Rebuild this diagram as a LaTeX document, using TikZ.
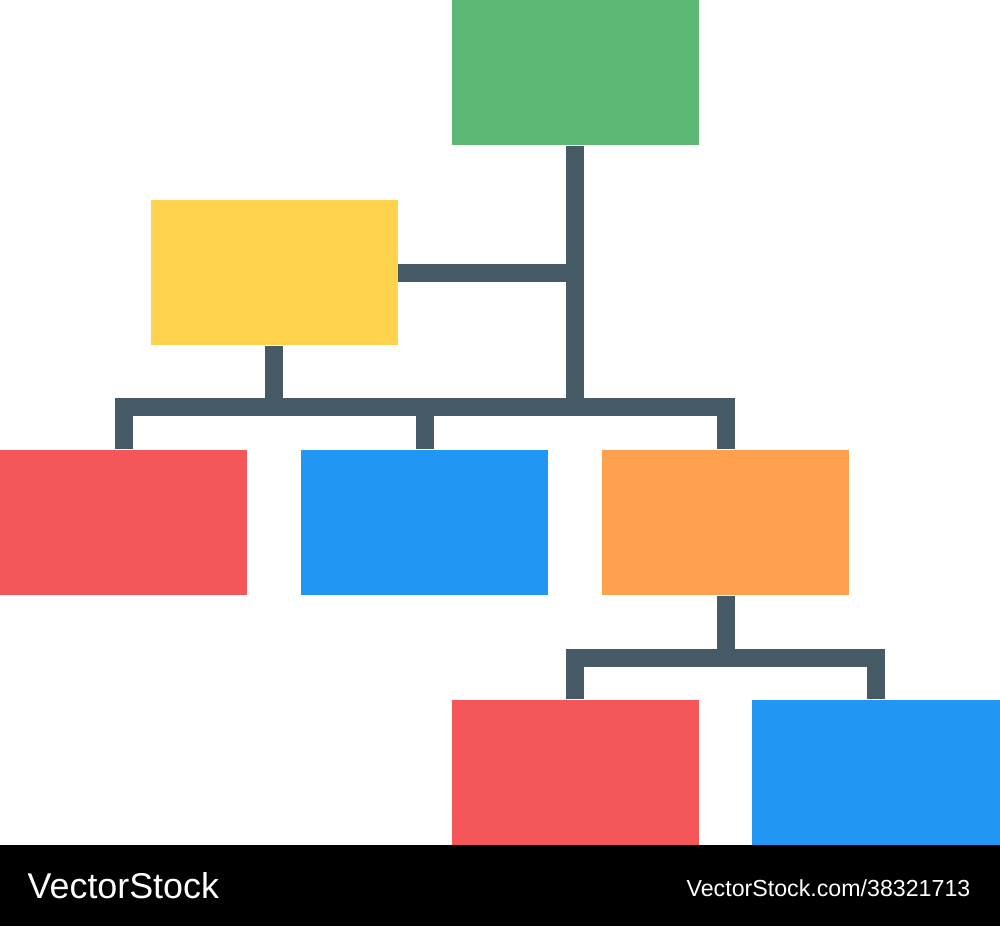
\documentclass[tikz,border=0pt]{standalone}
\usepackage{fontspec}
\setmainfont{Liberation Sans}
\definecolor{boxgreen}{HTML}{5CB874}
\definecolor{boxyellow}{HTML}{FFD34E}
\definecolor{boxred}{HTML}{F4565A}
\definecolor{boxblue}{HTML}{2196F3}
\definecolor{boxorange}{HTML}{FFA04F}
\definecolor{wire}{HTML}{455A64}
\begin{document}
\begin{tikzpicture}[
  box/.style={rectangle, inner sep=0pt, minimum width=2.47cm, minimum height=1.45cm},
  link/.style={draw=wire, line width=0.18cm, line join=miter}]
\useasboundingbox (0,0) rectangle (10,-9.26);
\node [box, fill=boxgreen] (top) at (5.75,-0.725) {};
\node [box, fill=boxyellow] (mid) at (2.74,-2.725) {};
\node [box, fill=boxred] (leftA) at (1.235,-5.225) {};
\node [box, fill=boxblue] (leftB) at (4.245,-5.225) {};
\node [box, fill=boxorange] (leftC) at (7.255,-5.225) {};
\node [box, fill=boxred] (lowA) at (5.75,-7.725) {};
\node [box, fill=boxblue, minimum width=2.48cm] (lowB) at (8.76,-7.725) {};
\coordinate (bus) at (0,-4.07);
\coordinate (bustwo) at (0,-6.58);
\draw [link] (top.south) -- (top.south |- bus);
\draw [link] (mid.east) -- (top.south |- mid.east);
\draw [link] (mid.south) -- (mid.south |- bus);
\draw [link] (leftA.north) |- (bus -| leftC.north) -- (leftC.north);
\draw [link] (leftB.north) -- (leftB.north |- bus);
\draw [link] (leftC.south) -- (leftC.south |- bustwo);
\draw [link] (lowA.north) |- (bustwo -| lowB.north) -- (lowB.north);
\fill [black] (0,-8.45) rectangle (10,-9.26);
\node [white, anchor=base west, inner sep=0pt, font=\fontsize{10.2}{12}\selectfont] (brand) at (0.27,-8.98) {VectorStock};
\node [white, anchor=base east, inner sep=0pt, font=\fontsize{6.6}{8}\selectfont] (ref) at (9.71,-8.96) {VectorStock.com/38321713};
\end{tikzpicture}
\end{document}
